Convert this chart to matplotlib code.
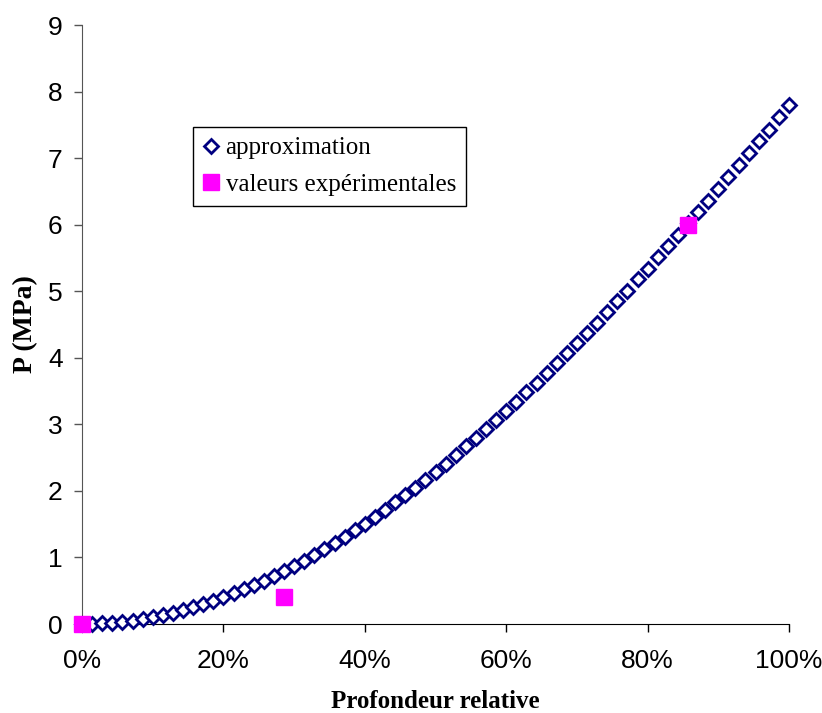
import matplotlib
matplotlib.use("Agg")
import matplotlib.pyplot as plt
from matplotlib.ticker import PercentFormatter

# profondeur (pas de 0.1 sur 7 unites) et pression approchee
prof_approx = [0.0, 0.1, 0.2, 0.3, 0.4, 0.5, 0.6, 0.7, 0.8, 0.9,
               1.0, 1.1, 1.2, 1.3, 1.4, 1.5, 1.6, 1.7, 1.8, 1.9,
               2.0, 2.1, 2.2, 2.3, 2.4, 2.5, 2.6, 2.7, 2.8, 2.9,
               3.0, 3.1, 3.2, 3.3, 3.4, 3.5, 3.6, 3.7, 3.8, 3.9,
               4.0, 4.1, 4.2, 4.3, 4.4, 4.5, 4.6, 4.7, 4.8, 4.9,
               5.0, 5.1, 5.2, 5.3, 5.4, 5.5, 5.6, 5.7, 5.8, 5.9,
               6.0, 6.1, 6.2, 6.3, 6.4, 6.5, 6.6, 6.7, 6.8, 6.9,
               7.0]
p_approx = [0.00, 0.00, 0.01, 0.02, 0.03, 0.05, 0.08, 0.10, 0.13, 0.17,
            0.21, 0.25, 0.30, 0.35, 0.40, 0.46, 0.52, 0.58, 0.65, 0.72,
            0.80, 0.87, 0.95, 1.04, 1.13, 1.22, 1.31, 1.41, 1.51, 1.61,
            1.72, 1.83, 1.94, 2.05, 2.17, 2.29, 2.41, 2.54, 2.67, 2.80,
            2.93, 3.06, 3.20, 3.34, 3.48, 3.62, 3.77, 3.92, 4.07, 4.22,
            4.38, 4.53, 4.69, 4.85, 5.01, 5.18, 5.34, 5.51, 5.68, 5.84,
            6.02, 6.19, 6.36, 6.54, 6.72, 6.89, 7.07, 7.25, 7.43, 7.62,
            7.80]

prof_exp = [0.0, 2.0, 6.0]
p_exp = [0.0, 0.4, 6.0]

prof_max = 7.0

x_approx = [d / prof_max for d in prof_approx]
x_exp = [d / prof_max for d in prof_exp]

fig = plt.figure(figsize=(8.22, 7.13), dpi=100)
ax = fig.add_axes([0.0998, 0.1248, 0.8601, 0.8401])

ax.plot(x_approx, p_approx, linestyle="none", marker="D", ms=7,
        mfc="white", mec="#000080", mew=2, clip_on=False,
        label="approximation", zorder=3)
ax.plot(x_exp, p_exp, linestyle="none", marker="s", ms=11,
        mfc="#ff00ff", mec="#ff00ff", clip_on=False,
        label="valeurs expérimentales", zorder=4)

ax.set_xlim(0, 1)
ax.set_ylim(0, 9)
ax.set_xticks([0, 0.2, 0.4, 0.6, 0.8, 1.0])
ax.set_yticks(range(10))
ax.xaxis.set_major_formatter(PercentFormatter(1.0, decimals=0))

for s in ["top", "right"]:
    ax.spines[s].set_visible(False)
ax.spines["left"].set_color("#555555")
ax.spines["bottom"].set_color("black")
ax.tick_params(axis="both", direction="out", length=6, width=1,
               labelsize=19, pad=6)
ax.tick_params(axis="y", colors="#555555", labelcolor="black", pad=8)
for lab in ax.get_xticklabels() + ax.get_yticklabels():
    lab.set_fontfamily("Liberation Sans")
ax.tick_params(axis="x", pad=12)

ax.set_xlabel("Profondeur relative", fontfamily="Liberation Serif",
              fontweight="bold", fontsize=18, labelpad=12.5)
ax.set_ylabel("P (MPa)", fontfamily="Liberation Serif",
              fontweight="bold", fontsize=20, labelpad=7)

leg = ax.legend(loc="upper left", bbox_to_anchor=(0.157, 0.830),
                prop={"family": "Liberation Serif", "size": 18},
                fancybox=False, framealpha=1, edgecolor="black",
                handlelength=0.6, handletextpad=0.3, borderpad=0.4,
                labelspacing=0.55, borderaxespad=0)
leg.get_frame().set_linewidth(1.0)
leg.legend_handles[0].set_markersize(7)
leg.legend_handles[1].set_markersize(12)

fig.savefig("out.png", dpi=100)
